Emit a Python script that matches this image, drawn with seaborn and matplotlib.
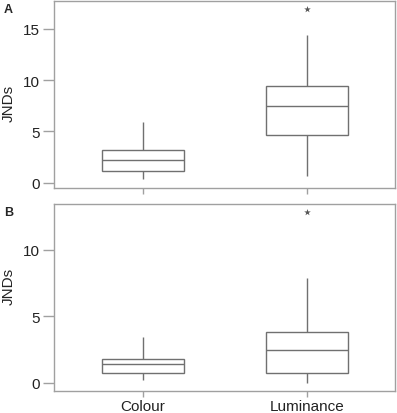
import numpy as np
import pandas as pd
import seaborn as sns
import matplotlib.pyplot as plt

categories = ["Colour", "Luminance"]
# five-number summaries: lower whisker, Q1, median, Q3, upper whisker
a_colour = [0.33, 1.14, 2.20, 3.15, 5.94]
a_luminance = [0.71, 4.67, 7.47, 9.38, 14.4]
a_outlier_cat = ["Luminance"]
a_outlier_val = [16.9]
b_colour = [0.18, 0.75, 1.38, 1.80, 3.48]
b_luminance = [0.02, 0.73, 2.50, 3.86, 7.92]
b_outlier_cat = ["Luminance"]
b_outlier_val = [12.83]
a_ticks = [0, 5, 10, 15]
b_ticks = [0, 5, 10]

sns.set_theme(style="white")
plt.rcParams['font.family'] = ['Liberation Sans', 'DejaVu Sans']

W, H = 397, 414
fig = plt.figure(figsize=(W / 100, H / 100), dpi=100)

def px_axes(left, top, right, bottom):
    return fig.add_axes([left / W, 1 - bottom / H, (right - left) / W, (bottom - top) / H])

axA = px_axes(54, 2, 395, 189)
axB = px_axes(54, 205, 395, 392)

line_c = "#707070"
frame_c = "#a0a0a0"

def draw(ax, col, lum, ocat, oval, ylim, ticks, label_y, show_xlabels):
    df = pd.DataFrame({
        "cat": ["Colour"] * len(col) + ["Luminance"] * len(lum),
        "val": list(col) + list(lum),
    })
    sns.boxplot(data=df, x="cat", y="val", order=categories, whis=(0, 100),
                width=0.5, color="white", linecolor=line_c, linewidth=1.0,
                fliersize=0, capprops={"visible": False}, ax=ax)
    odf = pd.DataFrame({"cat": ocat, "val": oval})
    sns.stripplot(data=odf, x="cat", y="val", order=categories, jitter=False,
                  marker="*", color="#555555", size=5, ax=ax)
    ax.set_xlim(-0.54, 1.536)
    ax.set_ylim(*ylim)
    ax.set_yticks(ticks)
    ax.set_ylabel("JNDs", fontsize=11, color="#222222")
    ax.yaxis.set_label_coords(-0.112, label_y)
    ax.set_xlabel("")
    for s in ax.spines.values():
        s.set_visible(True)
        s.set_color(frame_c)
        s.set_linewidth(1.0)
    ax.tick_params(axis="y", length=8, width=1, color=frame_c, pad=2,
                   labelsize=11, labelcolor="#222222", left=True)
    ax.tick_params(axis="x", length=4.5, width=1, color=frame_c, pad=1,
                   labelsize=11, labelcolor="#222222", bottom=True)
    if not show_xlabels:
        ax.set_xticklabels([])

draw(axA, a_colour, a_luminance, a_outlier_cat, a_outlier_val, (-0.5, 17.7), a_ticks, 0.46, False)
draw(axB, b_colour, b_luminance, b_outlier_cat, b_outlier_val, (-0.62, 13.46), b_ticks, 0.567, True)

fig.text(4 / W, 1 - 10 / H, "A", fontsize=9, fontweight="bold", va="center", ha="left")
fig.text(4 / W, 1 - 213 / H, "B", fontsize=9, fontweight="bold", va="center", ha="left")

fig.savefig("out.png", dpi=100)
